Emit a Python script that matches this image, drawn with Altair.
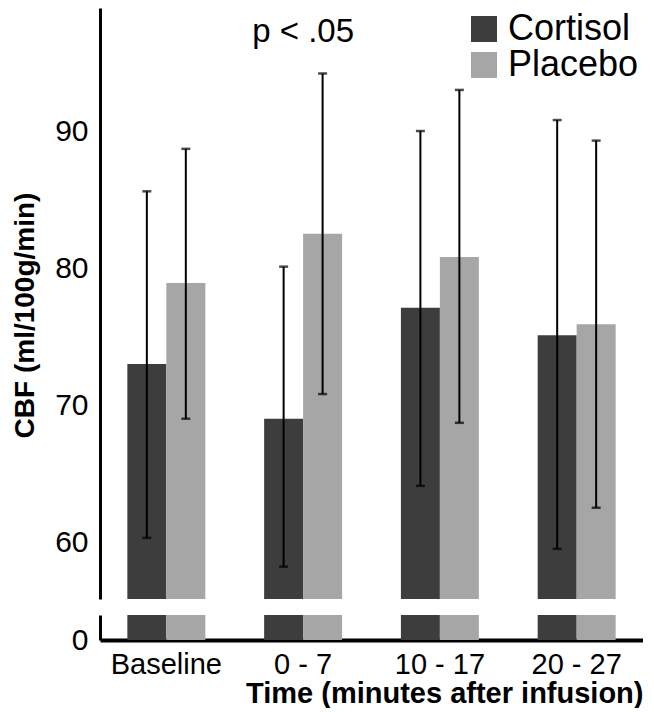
import altair as alt
import pandas as pd

groups = ["Baseline", "0 - 7", "10 - 17", "20 - 27"]
conditions = ["Cortisol", "Placebo"]
colors = ["#3d3d3d", "#a6a6a6"]

cortisol_mean = [73.0, 69.0, 77.1, 75.1]
cortisol_low = [60.3, 58.2, 64.1, 59.5]
cortisol_high = [85.6, 80.1, 90.0, 90.8]

placebo_mean = [78.9, 82.5, 80.8, 75.9]
placebo_low = [69.0, 70.8, 68.7, 62.5]
placebo_high = [88.7, 94.2, 93.0, 89.3]

y_ticks_top = [60, 70, 80, 90]
y_ticks_bottom = [0]
top_domain = [55.84, 98.98]
bottom_domain = [0, 2]

annot_text = ["p < .05"]
annot_group = ["0 - 7"]
annot_y = [97.2]

rows = []
for i, g in enumerate(groups):
    rows.append({"group": g, "cond": "Cortisol", "mean": cortisol_mean[i],
                 "low": cortisol_low[i], "high": cortisol_high[i]})
    rows.append({"group": g, "cond": "Placebo", "mean": placebo_mean[i],
                 "low": placebo_low[i], "high": placebo_high[i]})
df = pd.DataFrame(rows)
annot_df = pd.DataFrame({"text": annot_text, "group": annot_group, "y": annot_y})

FONT = "Liberation Sans"
W = 543

x_scale = alt.Scale(domain=groups, paddingInner=0.43, paddingOuter=0.2)
xo = alt.XOffset("cond:N", scale=alt.Scale(domain=conditions, paddingInner=0, paddingOuter=0))
color = alt.Color(
    "cond:N",
    scale=alt.Scale(domain=conditions, range=colors),
    legend=alt.Legend(
        orient="none", legendX=366, legendY=3, title=None,
        symbolType="square", symbolSize=676, symbolStrokeWidth=0,
        labelFontSize=36, labelFont=FONT, labelColor="black",
        labelOffset=6, rowPadding=0, labelLimit=300,
    ),
)

ys_top = alt.Scale(domain=top_domain, zero=False, nice=False)
top_base = alt.Chart(df).encode(
    x=alt.X("group:N", scale=x_scale, sort=groups, axis=None),
    xOffset=xo,
)
top_bars = top_base.mark_bar(clip=True).encode(
    y=alt.Y(
        "mean:Q", scale=ys_top,
        axis=alt.Axis(
            values=y_ticks_top, title="CBF (ml/100g/min)", titleY=307,
            titleFontSize=28, titleFontWeight="bold", titlePadding=15,
            labelFontSize=30, labelPadding=12, titleLimit=500,
        ),
    ),
    color=color,
)
top_rules = top_base.mark_rule(color="black", strokeWidth=2).encode(
    y=alt.Y("low:Q", scale=ys_top), y2="high:Q"
)
top_caps_hi = top_base.mark_tick(color="black", thickness=2.5, size=9).encode(
    y=alt.Y("high:Q", scale=ys_top)
)
top_caps_lo = top_base.mark_tick(color="black", thickness=2.5, size=9).encode(
    y=alt.Y("low:Q", scale=ys_top)
)
annot = alt.Chart(annot_df).mark_text(fontSize=33, font=FONT, color="black").encode(
    x=alt.X("group:N", scale=x_scale, sort=groups, axis=None),
    y=alt.Y("y:Q", scale=ys_top),
    text="text:N",
)
top = alt.layer(top_bars, top_rules, top_caps_hi, top_caps_lo, annot).properties(
    width=W, height=591
)

ys_bot = alt.Scale(domain=bottom_domain, zero=False, nice=False)
bottom = alt.Chart(df).mark_bar(clip=True).encode(
    x=alt.X(
        "group:N", scale=x_scale, sort=groups,
        axis=alt.Axis(
            title="Time (minutes after infusion)", titleAnchor="end",
            titleFontSize=29, titleFontWeight="bold", titlePadding=0,
            labelFontSize=29, labelPadding=10, labelAngle=0,
            domainWidth=4, titleLimit=600,
        ),
    ),
    xOffset=xo,
    y=alt.Y("mean:Q", scale=ys_bot,
            axis=alt.Axis(values=y_ticks_bottom, title=None, labelFontSize=30, labelPadding=12)),
    color=alt.Color("cond:N", scale=alt.Scale(domain=conditions, range=colors), legend=None),
).properties(width=W, height=25)

chart = alt.vconcat(top, bottom, spacing=16).resolve_legend(color="independent").configure(
    font=FONT, padding={"left": 3, "top": 0, "right": 0, "bottom": 0}
).configure_view(stroke=None).configure_axis(
    domainColor="black", domainWidth=3, ticks=False, grid=False,
    labelColor="black", titleColor="black", labelFont=FONT, titleFont=FONT,
)

chart.save("out.html", embed_options={"renderer": "svg", "actions": False})
